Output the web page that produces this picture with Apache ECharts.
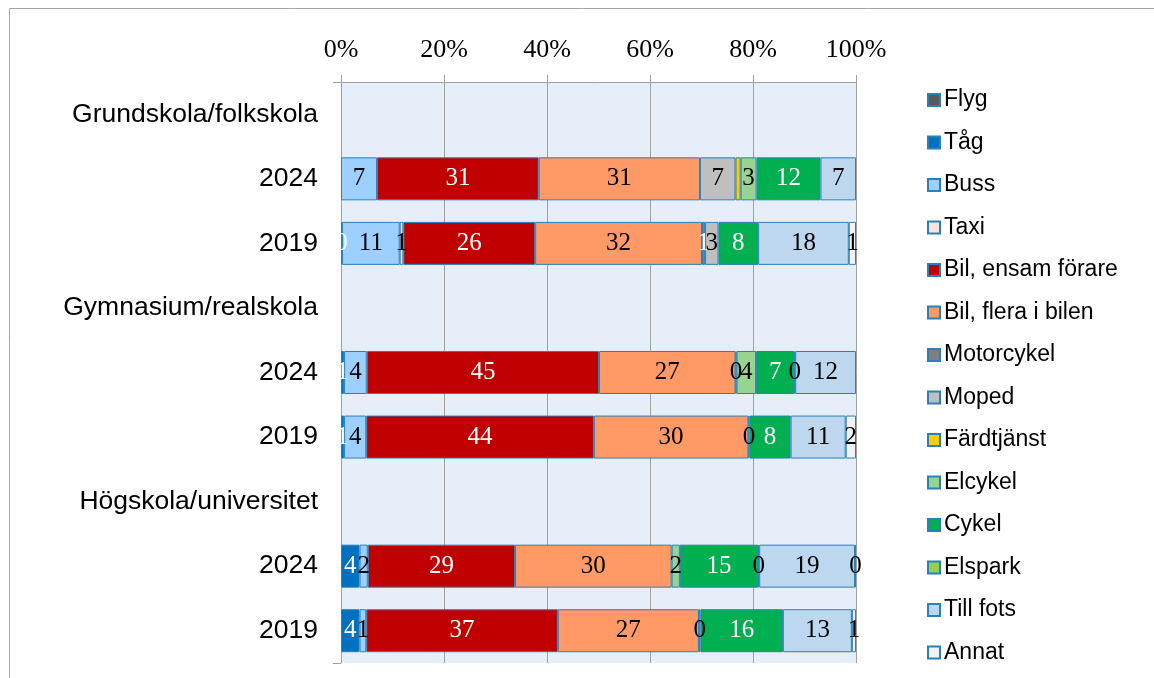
<!DOCTYPE html>
<html lang="sv">
<head>
    <meta charset="UTF-8">
    <title>Färdmedel efter utbildning</title>
    <script src="https://cdn.jsdelivr.net/npm/echarts@6/dist/echarts.min.js"></script>
    <style>
        html, body { margin: 0; padding: 0; background: #fff; }
        #chart_main { width: 1154px; height: 678px; }
    </style>
</head>
<body>
<div id="chart_main"></div>
<script>
  // rader (uppifrån och ned)
  var categories = ['grund', 'grund2024', 'grund2019', 'gym', 'gym2024', 'gym2019', 'hog', 'hog2024', 'hog2019'];
  var tickLabels = ['Grundskola/folkskola', '2024', '2019', 'Gymnasium/realskola', '2024', '2019', 'Högskola/universitet', '2024', '2019'];
  var xTicks = [0, 20, 40, 60, 80, 100];

  // andelar i procent per färdmedel, null = inget värde
  var flyg       = [null, null, null, null, null, null, null, null, null];
  var tag        = [null, null, 0.2, null, 0.6, 0.6, null, 3.6, 3.6];
  var buss       = [null, 7.0, 11.2, null, 4.4, 4.3, null, 1.6, 1.3];
  var taxi       = [null, null, 0.7, null, null, null, null, null, null];
  var bilEnsam   = [null, 31.4, 25.6, null, 45.1, 44.2, null, 28.6, 37.2];
  var bilFlera   = [null, 31.3, 32.4, null, 26.5, 30.0, null, 30.4, 27.4];
  var motorcykel = [null, null, 0.6, null, null, null, null, null, null];
  var moped      = [null, 6.9, 2.6, null, 0.2, null, null, null, null];
  var fardtjanst = [null, 1.0, null, null, null, null, null, null, null];
  var elcykel    = [null, 3.1, null, null, 3.8, 0.2, null, 1.6, 0.3];
  var cykel      = [null, 12.4, 7.7, null, 7.4, 8.0, null, 15.2, 16.0];
  var elspark    = [null, null, null, null, 0.2, null, null, 0.2, null];
  var tillFots   = [null, 6.9, 17.6, null, 11.8, 10.7, null, 18.6, 13.4];
  var annat      = [null, null, 1.4, null, null, 2.0, null, 0.2, 0.8];

  var seriesDefs = [
    {name: 'Flyg', data: flyg, color: '#595959', text: '#fff'},
    {name: 'Tåg', data: tag, color: '#0070c0', text: '#fff'},
    {name: 'Buss', data: buss, color: '#9dcfff', text: '#000'},
    {name: 'Taxi', data: taxi, color: '#fce4d6', text: '#000'},
    {name: 'Bil, ensam förare', data: bilEnsam, color: '#c00000', text: '#fff'},
    {name: 'Bil, flera i bilen', data: bilFlera, color: '#ff9966', text: '#000'},
    {name: 'Motorcykel', data: motorcykel, color: '#7f7f7f', text: '#fff'},
    {name: 'Moped', data: moped, color: '#bfbfbf', text: '#000'},
    {name: 'Färdtjänst', data: fardtjanst, color: '#ffcc00', text: '#000', noLabel: true},
    {name: 'Elcykel', data: elcykel, color: '#97d48f', text: '#000'},
    {name: 'Cykel', data: cykel, color: '#00b050', text: '#fff'},
    {name: 'Elspark', data: elspark, color: '#92d050', text: '#000'},
    {name: 'Till fots', data: tillFots, color: '#bdd7ee', text: '#000'},
    {name: 'Annat', data: annat, color: '#f2f2f2', text: '#000'}
  ];

  var myChart = echarts.init(document.getElementById('chart_main'));

  var series = seriesDefs.map(function(s) {
    return {
      name: s.name,
      type: 'bar',
      stack: 'total',
      barWidth: 43,
      data: s.data,
      itemStyle: {color: s.color, borderColor: '#2a80b9', borderWidth: 1},
      label: {
        show: !s.noLabel,
        position: 'inside',
        color: s.text,
        fontFamily: 'Liberation Serif',
        fontSize: 25,
        formatter: function(p) { return Math.round(p.value); }
      },
      emphasis: {disabled: true}
    };
  });

  var option = {
    animation: false,
    graphic: [{
      type: 'rect',
      shape: {x: 9.5, y: 8.5, width: 1200, height: 700},
      style: {fill: 'none', stroke: '#a6a6a6', lineWidth: 1},
      silent: true
    }],
    grid: {
      left: 341, right: 298, top: 82, bottom: 15,
      show: true, backgroundColor: '#e6eff9', borderWidth: 0
    },
    legend: {
      orient: 'vertical',
      left: 922,
      top: 83,
      itemWidth: 12,
      itemHeight: 12,
      itemGap: 18.5,
      icon: 'rect',
      selectedMode: false,
      textStyle: {fontFamily: 'Liberation Sans', fontSize: 23, color: '#000', lineHeight: 24, padding: [0, 0, 0, -1]},
      data: seriesDefs.map(function(s) { return s.name; })
    },
    xAxis: {
      type: 'value',
      position: 'top',
      min: xTicks[0],
      max: xTicks[xTicks.length - 1],
      interval: 20,
      axisLine: {show: true, lineStyle: {color: '#a0a0a0'}},
      axisTick: {show: true, length: 7, lineStyle: {color: '#a0a0a0'}},
      splitLine: {show: true, lineStyle: {color: '#a0a0a0', width: 1}},
      axisLabel: {
        margin: 19,
        fontFamily: 'Liberation Serif',
        fontSize: 26,
        color: '#000',
        formatter: '{value}%'
      }
    },
    yAxis: {
      type: 'category',
      inverse: true,
      data: categories,
      axisLine: {show: true, lineStyle: {color: '#a0a0a0'}},
      axisTick: {
        show: true, length: 8, lineStyle: {color: '#a0a0a0'},
        interval: function(idx) { return idx === 0; }
      },
      axisLabel: {
        margin: 23,
        fontFamily: 'Liberation Sans',
        fontSize: 26.5,
        color: '#000',
        formatter: function(v, i) { return tickLabels[i]; }
      }
    },
    series: series
  };

  myChart.setOption(option);
</script>
</body>
</html>
